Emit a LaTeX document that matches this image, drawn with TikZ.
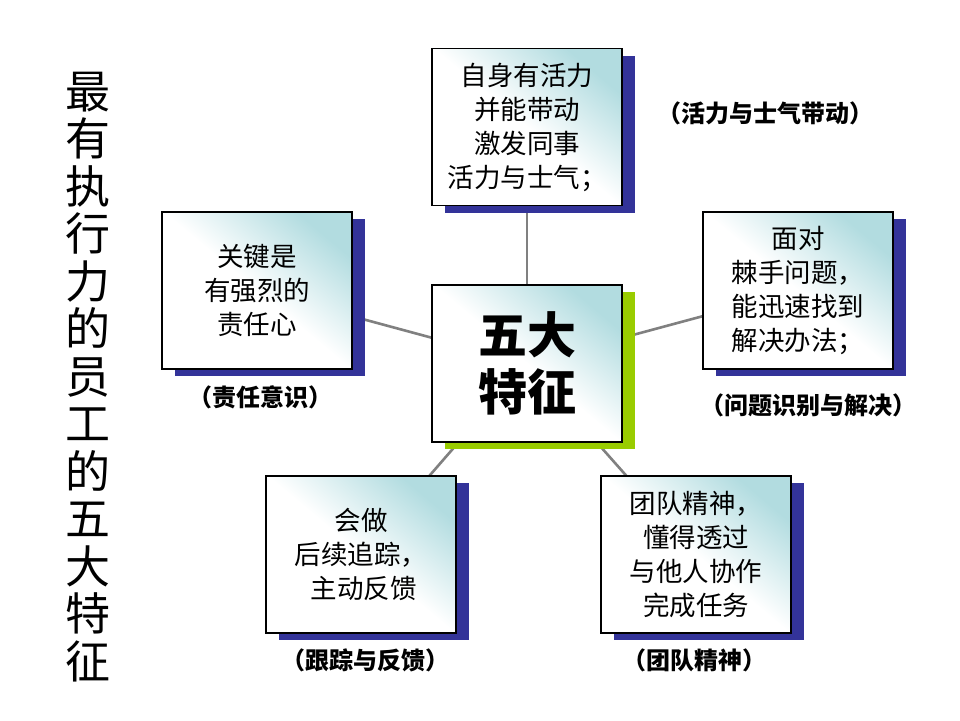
\documentclass[tikz,border=0pt]{standalone}
\usepackage{fontspec}
\newfontfamily\cjk{Noto Sans CJK SC}
\usetikzlibrary{shadows,backgrounds}
\definecolor{shblue}{RGB}{51,51,153}
\definecolor{shgreen}{RGB}{153,204,0}
\definecolor{boxteal}{RGB}{178,220,224}
\definecolor{linegray}{RGB}{128,128,128}
\begin{document}
\begin{tikzpicture}[x=1pt,y=-1pt,
  boxbase/.style={draw=black, line width=1.1pt, minimum width=190pt, minimum height=157pt,
    inner sep=0pt, align=center,
    top color=boxteal, bottom color=white, middle color=white, shading angle=-40},
  box/.style={boxbase, font=\cjk\fontsize{26.5}{34}\selectfont,
    general shadow={fill=shblue, draw=none, shadow xshift=13pt, shadow yshift=-7pt}},
  hub/.style={boxbase, font=\cjk\bfseries\fontsize{49}{57}\selectfont,
    general shadow={fill=shgreen, draw=none, shadow xshift=13pt, shadow yshift=-7pt}},
  tag/.style={font=\cjk\bfseries\fontsize{24}{28}\selectfont, inner sep=0pt},
  conn/.style={draw=linegray, line width=2.6pt},
  title/.style={font=\cjk\fontsize{45}{47.5}\selectfont, align=center, inner sep=0pt}
]
\useasboundingbox (0,0) rectangle (960,720);

\node[title] (ttl) at (88,377) {最\\有\\执\\行\\力\\的\\员\\工\\的\\五\\大\\特\\征};

\node[hub] (c) at (527,363.5) {五大\\特征};
\node[box] (t) at (527,127) {自身有活力\\并能带动\\激发同事\\活力与士气；};
\node[box] (l) at (257,290.5) {关键是\\有强烈的\\责任心};
\node[box] (r) at (798,290.5) {面对\\棘手问题，\\能迅速找到\\解决办法；};
\node[box] (bl) at (361,554.5) {会做\\后续追踪，\\\ 主动反馈};
\node[box] (br) at (696,554.5) {团队精神，\\懂得透过\\与他人协作\\完成任务};

\node[tag] (tt) at (765,113) {（活力与士气带动）};
\node[tag] (lt) at (260,397) {（责任意识）};
\node[tag] (rt) at (808,405) {（问题识别与解决）};
\node[tag] (blt) at (365,660) {（跟踪与反馈）};
\node[tag] (brt) at (694,660) {（团队精神）};

\begin{scope}[on background layer]
  \fill[white] (0,0) rectangle (960,720);
  \draw[conn] (c.center) -- (t.center);
  \draw[conn] (c.center) -- (l.center);
  \draw[conn] (c.center) -- (r.center);
  \draw[conn] (c.center) -- (bl.center);
  \draw[conn] (c.center) -- (br.center);
\end{scope}
\end{tikzpicture}
\end{document}
